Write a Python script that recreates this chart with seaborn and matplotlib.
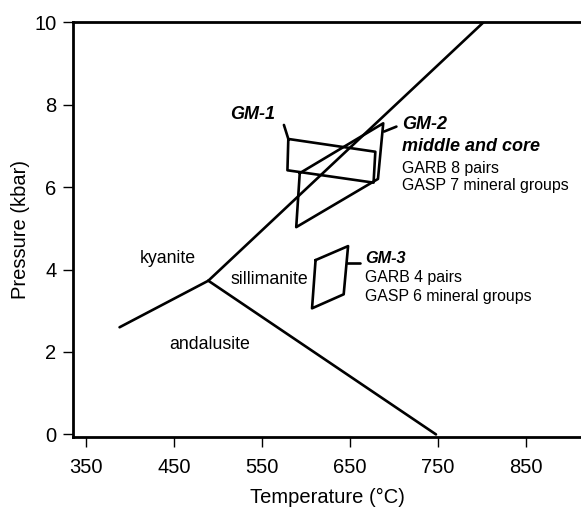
import matplotlib
matplotlib.use("Agg")
import matplotlib.pyplot as plt
import seaborn as sns
import pandas as pd

# reaction lines of the Al2SiO5 diagram (T in degC, P in kbar)
ky_and_T = [388, 489]
ky_and_P = [2.60, 3.73]
and_sil_T = [489, 748]
and_sil_P = [3.73, 0.0]
ky_sil_T = [489, 802]
ky_sil_P = [3.73, 10.0]

# P-T boxes
gm1_T = [575, 580, 679, 677, 579, 580]
gm1_P = [7.51, 7.17, 6.86, 6.11, 6.41, 7.17]
gm2_T = [593, 688, 682, 589, 593]
gm2_P = [6.34, 7.55, 6.20, 5.03, 6.34]
gm2_lead_T = [689, 703]
gm2_lead_P = [7.35, 7.47]
gm3_T = [611, 648, 643, 607, 611]
gm3_P = [4.23, 4.57, 3.40, 3.06, 4.23]
gm3_lead_T = [647, 661]
gm3_lead_P = [4.17, 4.17]

xticks = [350, 450, 550, 650, 750, 850]
yticks = [0, 2, 4, 6, 8, 10]

sns.set_theme(style="white")
plt.rcParams["font.family"] = ["Liberation Sans", "DejaVu Sans"]
plt.rcParams["text.color"] = "black"
plt.rcParams["axes.labelcolor"] = "black"

fig = plt.figure(figsize=(5.81, 5.08), dpi=100)
ax = fig.add_axes([0.1256, 0.14, 0.8744, 0.816])

paths = [
    (ky_and_T, ky_and_P), (and_sil_T, and_sil_P), (ky_sil_T, ky_sil_P),
    (gm1_T, gm1_P), (gm2_T, gm2_P), (gm2_lead_T, gm2_lead_P),
    (gm3_T, gm3_P), (gm3_lead_T, gm3_lead_P),
]
for t, p in paths:
    df = pd.DataFrame({"T": t, "P": p})
    sns.lineplot(data=df, x="T", y="P", sort=False, estimator=None,
                 color="black", linewidth=1.9, ax=ax)

# field names
ax.text(443, 4.28, "kyanite", ha="center", va="center", fontsize=12.8)
ax.text(559, 3.76, "sillimanite", ha="center", va="center", fontsize=12.8)
ax.text(491, 2.18, "andalusite", ha="center", va="center", fontsize=12.8)

# sample labels
ax.text(565, 7.76, "GM-1", ha="right", va="center", fontsize=13,
        fontweight="bold", fontstyle="italic")
ax.text(709, 7.53, "GM-2", ha="left", va="center", fontsize=13,
        fontweight="bold", fontstyle="italic")
ax.text(709, 6.99, "middle and core", ha="left", va="center", fontsize=13,
        fontweight="bold", fontstyle="italic")
ax.text(709, 6.46, "GARB 8 pairs", ha="left", va="center", fontsize=11.4)
ax.text(709, 6.03, "GASP 7 mineral groups", ha="left", va="center", fontsize=11.4)
ax.text(667, 4.26, "GM-3", ha="left", va="center", fontsize=11.7,
        fontweight="bold", fontstyle="italic")
ax.text(667, 3.80, "GARB 4 pairs", ha="left", va="center", fontsize=11.4)
ax.text(667, 3.35, "GASP 6 mineral groups", ha="left", va="center", fontsize=11.4)

ax.set_xlim(335, 913)
ax.set_ylim(-0.06, 10)
ax.set_xticks(xticks)
ax.set_yticks(yticks)
ax.set_xlabel("Temperature (°C)", fontsize=14.5, labelpad=8)
ax.set_ylabel("Pressure (kbar)", fontsize=14.5, labelpad=3)
ax.tick_params(axis="both", direction="out", length=7, width=1.0,
               colors="black", labelsize=14.5, pad=5)
ax.tick_params(axis="x", bottom=True, pad=8)
ax.tick_params(axis="y", left=True)
for side in ["left", "bottom", "top"]:
    ax.spines[side].set_color("black")
    ax.spines[side].set_linewidth(2.0)
ax.spines["right"].set_visible(False)

fig.savefig("out.png", dpi=100)
